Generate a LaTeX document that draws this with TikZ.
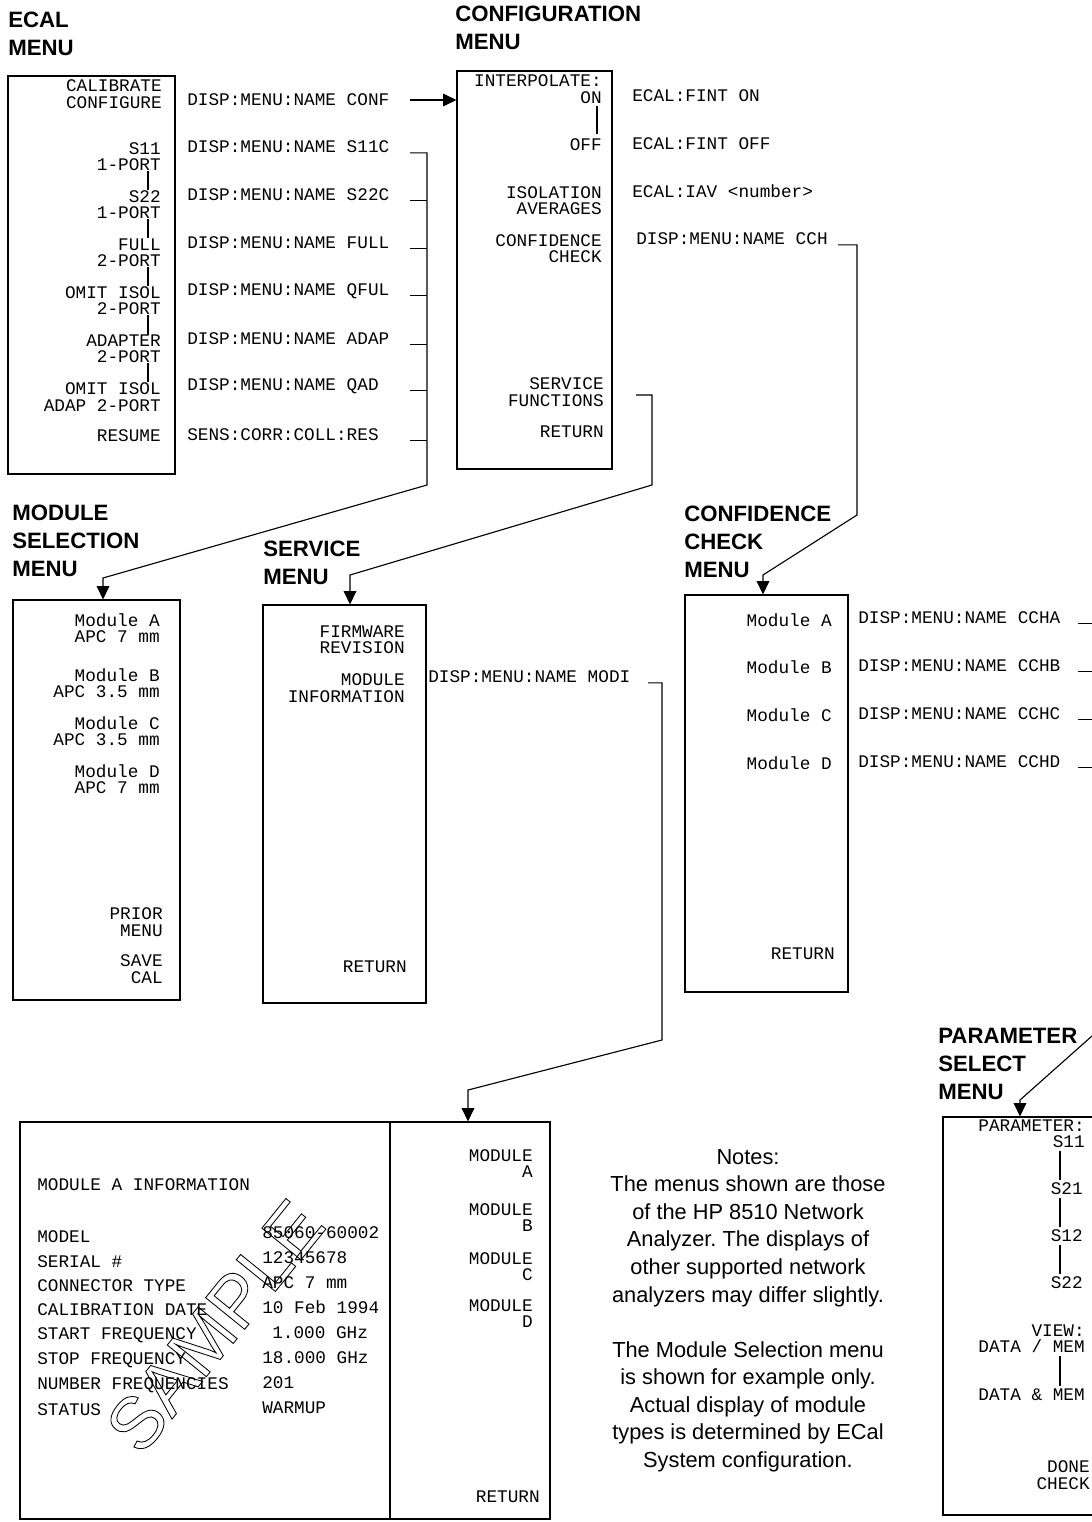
\documentclass[tikz,border=0pt]{standalone}
\usepackage{fontspec}
\setmainfont{Liberation Sans}
\newfontfamily\menufont{Liberation Mono}[WordSpace={1,0,0}]
\usetikzlibrary{arrows.meta,positioning,fit}

\begin{document}
\begin{tikzpicture}[x=0.025cm,y=-0.025cm,
  wire/.style={line width=0.8pt},
  wirearrow/.style={wire,-{Triangle[length=9.5pt,width=9pt]}},
  menubox/.style={draw,line width=0.8pt,inner sep=0pt},
  softkey/.style={font=\menufont\fontsize{12.6}{11.7}\selectfont,align=right,anchor=east,inner sep=0pt},
  cmd/.style={font=\menufont\fontsize{12.6}{11.7}\selectfont,anchor=west,inner sep=0pt},
  heading/.style={font=\bfseries\fontsize{15.8}{19.9}\selectfont,align=left,anchor=north west,inner sep=0pt},
  note/.style={font=\frenchspacing\fontsize{15.5}{19.6}\selectfont,align=center,anchor=north,inner sep=0pt}]
  \useasboundingbox (0,0) rectangle (1092,1522);
  \clip (0,0) rectangle (1092,1522);

  \node[heading] (hecal) at (8,12) {ECAL\\MENU};
  \node[heading] (hconf) at (455,6) {CONFIGURATION\\MENU};
  \node[heading] (hmod) at (12,505) {MODULE\\SELECTION\\MENU};
  \node[heading] (hsvc) at (263,541) {SERVICE\\MENU};
  \node[heading] (hcc) at (684,506) {CONFIDENCE\\CHECK\\MENU};
  \node[heading] (hpar) at (938,1028) {PARAMETER\\SELECT\\MENU};

  \node[menubox,fit={(8,76) (175,474)}] (ecalbox) {};
  \node[menubox,fit={(457,71) (612,469)}] (confbox) {};
  \node[menubox,fit={(13,600) (180,1000)}] (msbox) {};
  \node[menubox,fit={(263,605) (426,1003)}] (svbox) {};
  \node[menubox,fit={(685,595) (848,992)}] (ccbox) {};
  \node[menubox,fit={(943,1117) (1110,1515)}] (pmbox) {};
  \node[menubox,fit={(20,1122) (550,1519)}] (infobox) {};

  % ECAL menu
  \node[softkey] (kcal) at (162,94) {CALIBRATE\\CONFIGURE};
  \node[softkey] (ks11) at (161,156.5) {S11\\1-PORT};
  \node[softkey] (ks22) at (161,204.5) {S22\\1-PORT};
  \node[softkey] (kfull) at (161,252.5) {FULL\\2-PORT};
  \node[softkey] (kqful) at (161,300.5) {OMIT ISOL\\2-PORT};
  \node[softkey] (kadap) at (161,349) {ADAPTER\\2-PORT};
  \node[softkey] (kqad) at (161,397) {OMIT ISOL\\ADAP 2-PORT};
  \node[softkey] (kres) at (161,436) {RESUME};
  \node[cmd] (cconf) at (187,100) {DISP:MENU:NAME CONF};
  \node[cmd] (cs11c) at (187,147) {DISP:MENU:NAME S11C};
  \node[cmd] (cs22c) at (187,195) {DISP:MENU:NAME S22C};
  \node[cmd] (cfull) at (187,243) {DISP:MENU:NAME FULL};
  \node[cmd] (cqful) at (187,291) {DISP:MENU:NAME QFUL};
  \node[cmd] (cadap) at (187,339) {DISP:MENU:NAME ADAP};
  \node[cmd] (cqad) at (187,386) {DISP:MENU:NAME QAD};
  \node[cmd] (cres) at (187,435) {SENS:CORR:COLL:RES};
  \coordinate (etgl) at (148,0);
  \foreach \a/\b in {ks11/ks22,ks22/kfull,kfull/kqful,kqful/kadap,kadap/kqad}
    \draw[wire] (\a.south -| etgl) -- (\b.north -| etgl);

  % configuration menu
  \node[softkey] (kinterp) at (602,89) {INTERPOLATE:\\ON};
  \node[softkey] (koff) at (602,145) {OFF};
  \node[softkey] (kiso) at (602,200.5) {ISOLATION\\AVERAGES};
  \node[softkey] (kconf) at (602,248.5) {CONFIDENCE\\CHECK};
  \node[softkey] (ksvc) at (604,392) {SERVICE\\FUNCTIONS};
  \node[softkey] (kcret) at (604,432) {RETURN};
  \node[cmd] (cfon) at (632,96) {ECAL:FINT ON};
  \node[cmd] (cfoff) at (632,144) {ECAL:FINT OFF};
  \node[cmd] (ciav) at (632,191) {ECAL:IAV <number>};
  \node[cmd] (ccch) at (636,239) {DISP:MENU:NAME CCH};
  \coordinate (ctgl) at (597,0);
  \draw[wire,shorten <=2pt,shorten >=3pt] (kinterp.south -| ctgl) -- (koff.north -| ctgl);

  % module selection menu
  \node[softkey] (kma) at (160,628) {Module A\\APC 7 mm};
  \node[softkey] (kmb) at (160,683) {Module B\\APC 3.5 mm};
  \node[softkey] (kmc) at (160,731) {Module C\\APC 3.5 mm};
  \node[softkey] (kmd) at (160,779) {Module D\\APC 7 mm};
  \node[softkey] (kprior) at (163,922) {PRIOR\\MENU};
  \node[softkey] (ksave) at (163,969) {SAVE\\CAL};

  % service menu
  \node[softkey] (kfirm) at (405,640) {FIRMWARE\\REVISION};
  \node[softkey] (kminfo) at (405,688) {MODULE\\INFORMATION};
  \node[softkey] (ksret) at (407,967) {RETURN};
  \node[cmd] (cmodi) at (428,677) {DISP:MENU:NAME MODI};

  % confidence check menu
  \node[softkey] (kcca) at (832,620) {Module A};
  \node[softkey] (kccb) at (832,667) {Module B};
  \node[softkey] (kccc) at (832,715) {Module C};
  \node[softkey] (kccd) at (832,763) {Module D};
  \node[softkey] (kccret) at (835,954) {RETURN};
  \node[cmd] (ccha) at (858,618) {DISP:MENU:NAME CCHA};
  \node[cmd] (cchb) at (858,666) {DISP:MENU:NAME CCHB};
  \node[cmd] (cchc) at (858,714) {DISP:MENU:NAME CCHC};
  \node[cmd] (cchd) at (858,762) {DISP:MENU:NAME CCHD};

  % parameter select menu
  \node[softkey] (kpar) at (1085,1133.5) {PARAMETER:\\S11};
  \node[softkey] (ks21) at (1083,1189) {S21};
  \node[softkey] (ks12) at (1083,1236) {S12};
  \node[softkey] (kp22) at (1083,1283) {S22};
  \node[softkey] (kview) at (1085,1339) {VIEW:\\DATA / MEM};
  \node[softkey] (kdm) at (1085,1395) {DATA \& MEM};
  \node[softkey] (kdone) at (1090,1475) {DONE\\CHECK};
  \coordinate (ptgl) at (1060,0);
  \foreach \a/\b in {kpar/ks21,ks21/ks12,ks12/kp22,kview/kdm}
    \draw[wire,shorten <=2pt,shorten >=2pt] (\a.south -| ptgl) -- (\b.north -| ptgl);

  % module information display
  \coordinate (infodiv) at (390,0);
  \draw[wire] (infobox.north -| infodiv) -- (infobox.south -| infodiv);
  \node[cmd] (ititle) at (37,1185) {MODULE A INFORMATION};
  \node[cmd] (lmodel) at (37,1237) {MODEL};
  \node[cmd] (lserial) at (37,1262) {SERIAL \#};
  \node[cmd] (lconn) at (37,1286) {CONNECTOR TYPE};
  \node[cmd] (ldate) at (37,1310) {CALIBRATION DATE};
  \node[cmd] (lstart) at (37,1335) {START FREQUENCY};
  \node[cmd] (lstop) at (37,1360) {STOP FREQUENCY};
  \node[cmd] (lnum) at (37,1385) {NUMBER FREQUENCIES};
  \node[cmd] (lstat) at (37,1410) {STATUS};
  \node[cmd] (vmodel) at (262,1233) {85060-60002};
  \node[cmd] (vserial) at (262,1258) {12345678};
  \node[cmd] (vconn) at (262,1283) {APC 7 mm};
  \node[cmd] (vdate) at (262,1307) {10 Feb 1994};
  \node[cmd] (vstart) at (272,1333) {1.000 GHz};
  \node[cmd] (vstop) at (262,1358) {18.000 GHz};
  \node[cmd] (vnum) at (262,1383) {201};
  \node[cmd] (vstat) at (262,1408) {WARMUP};
  \node[softkey] (kima) at (533,1163.5) {MODULE\\A};
  \node[softkey] (kimb) at (533,1217.5) {MODULE\\B};
  \node[softkey] (kimc) at (533,1266.5) {MODULE\\C};
  \node[softkey] (kimd) at (533,1313.5) {MODULE\\D};
  \node[softkey] (kiret) at (540,1497) {RETURN};
  \node[rotate=51,inner sep=0pt,font=\fontsize{52}{52}\selectfont] (stamp) at (215,1326)
    {\special{pdf:code 1 Tr 0.6 w}SAMPLE\special{pdf:code 0 Tr}};

  \node[note] (notes) at (748,1149) {Notes:\\The menus shown are those\\of the HP 8510 Network\\Analyzer. The displays of\\other supported network\\analyzers may differ slightly.\\[0.69cm]The Module Selection menu\\is shown for example only.\\Actual display of module\\types is determined by ECal\\System configuration.};

  % connectors
  \coordinate (estub) at (410,0);
  \coordinate (ebus) at (427,485);
  \coordinate (msbend) at (103,578);
  \coordinate (svcstub) at (636,395);
  \coordinate (svcbus) at (652,485);
  \coordinate (svbend) at (350,575);
  \coordinate (cchstub) at (838,0);
  \coordinate (cchbus) at (857,515);
  \coordinate (ccbend) at (763,575);
  \coordinate (modistub) at (648,0);
  \coordinate (modibus) at (662,1040);
  \coordinate (mibend) at (468,1090);
  \coordinate (ccxstub) at (1078,0);
  \coordinate (cchedge) at (1092,0);
  \coordinate (pmin) at (1092,1036);
  \coordinate (pmbend) at (1020,1100);
  \draw[wirearrow] (cconf.east -| estub) -- (cconf.east -| confbox.west);
  \foreach \n in {cs22c,cfull,cqful,cadap,cqad,cres}
    \draw[wire] (\n.base -| estub) -- (\n.base -| ebus);
  \draw[wirearrow] (cs11c.base -| estub) -- (cs11c.base -| ebus) -- (ebus) -- (msbend) -- (msbend |- msbox.north);
  \draw[wirearrow] (svcstub) -- (svcstub -| svcbus) -- (svcbus) -- (svbend) -- (svbend |- svbox.north);
  \draw[wirearrow] (ccch.base -| cchstub) -- (ccch.base -| cchbus) -- (cchbus) -- (ccbend) -- (ccbend |- ccbox.north);
  \draw[wirearrow] (cmodi.base -| modistub) -- (cmodi.base -| modibus) -- (modibus) -- (mibend) -- (mibend |- infobox.north);
  \foreach \n in {ccha,cchb,cchc,cchd}
    \draw[wire] (\n.base -| ccxstub) -- (\n.base -| cchedge);
  \draw[wirearrow] (pmin) -- (pmbend) -- (pmbend |- pmbox.north);
\end{tikzpicture}
\end{document}
